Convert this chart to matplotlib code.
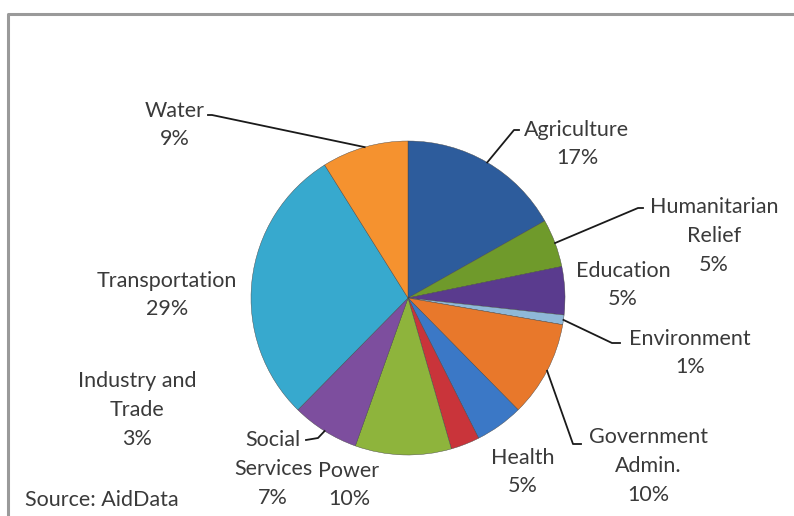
import matplotlib
matplotlib.use("Agg")
import matplotlib.pyplot as plt
import numpy as np
from matplotlib.lines import Line2D

categories = ["Agriculture", "Humanitarian\nRelief", "Education", "Environment",
              "Government\nAdmin.", "Health", "Industry and\nTrade", "Power",
              "Social\nServices", "Transportation", "Water"]
values = [17, 5, 5, 1, 10, 5, 3, 10, 7, 29, 9]
pct_labels = ["17%", "5%", "5%", "1%", "10%", "5%", "3%", "10%", "7%", "29%", "9%"]
colors = ["#2D5C9C", "#6F9A2B", "#5A3B8E", "#8FB8D8", "#E8782B", "#3B78C6",
          "#C9343A", "#8EB43C", "#7D4E9E", "#37A9CE", "#F5922F"]
source = "Source: AidData"

W, H = 794, 516
fig = plt.figure(figsize=(W / 100, H / 100), dpi=100)
ax = fig.add_axes([0, 0, 1, 1])

def Y(y):
    return H - y

cx, cy, r = 408, Y(298), 157
wedges, _ = ax.pie(values, colors=colors, startangle=90, counterclock=False,
                   center=(cx, cy), radius=r,
                   wedgeprops=dict(edgecolor="#444444", linewidth=0.3))
ax.set_xlim(0, W)
ax.set_ylim(0, H)
ax.set_aspect("equal")
ax.axis("off")

font = "Lato"
tc = "#3a3a3a"
fs = 15.5
ls = 1.55

# label positions (text centers, pixel coords from top) and leader elbows
label_pos = {
    0: (577, 144), 1: (714, 236), 2: (623, 285), 3: (690, 353),
    4: (648, 466), 5: (523, 472), 6: (137, 410), 7: (349, 485),
    8: (273, 469), 9: (167, 295), 10: (175, 125),
}
leaders = {
    0: [(514, 130), (519, 130)],
    1: [(638, 208), (643, 208)],
    3: [(612, 343), (620, 343)],
    4: [(573, 444), (581, 444)],
    8: [(318, 438), (306, 440)],
    10: [(212, 115), (208, 115)],
}

total = sum(values)
cum = 0
for i, v in enumerate(values):
    mid = 90 - (cum + v / 2) / total * 360
    cum += v
    x, y = label_pos[i]
    ax.text(x, Y(y), categories[i] + "\n" + pct_labels[i], ha="center", va="center",
            fontsize=fs, family=font, color=tc, linespacing=ls)
    if i in leaders:
        ex = cx + r * np.cos(np.radians(mid))
        ey = cy + r * np.sin(np.radians(mid))
        pts = [(ex, ey)] + [(px, Y(py)) for px, py in leaders[i]]
        xs, ys = zip(*pts)
        ax.add_line(Line2D(xs, ys, color="#1a1a1a", lw=1.3))

ax.text(25, Y(500), source, ha="left", va="center", fontsize=fs,
        family=font, color=tc)

# chart frame
ax.add_line(Line2D([8, 8, W], [0, Y(14), Y(14)], color="#9a9a9a", lw=2.2))

fig.savefig("out.png", dpi=100)
